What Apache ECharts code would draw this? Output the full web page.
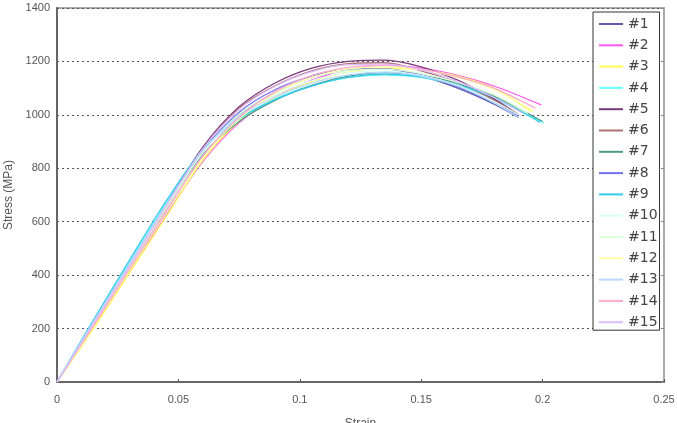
<!DOCTYPE html>
<html>
<head>
<meta charset="utf-8">
<script src="https://cdn.jsdelivr.net/npm/echarts@6/dist/echarts.min.js"></script>
<style>
html,body{margin:0;padding:0;background:#fff;}
#chart{width:677px;height:423px;}
</style>
</head>
<body>
<div id="chart"></div>
<script>
// Data
var seriesNames = ['#1','#2','#3','#4','#5','#6','#7','#8','#9','#10','#11','#12','#13','#14','#15'];
var strainPts = [0, 0.015, 0.03, 0.045, 0.06, 0.075, 0.09, 0.105, 0.12, 0.135, 0.15, 0.165, 0.18];
var s1  = [0, 220, 435, 655, 860, 1000, 1085, 1140, 1168, 1172, 1145, 1100, 1040];
var s2  = [0, 205, 415, 625, 825, 970, 1065, 1130, 1170, 1185, 1175, 1148, 1108];
var s3  = [0, 200, 410, 620, 830, 975, 1065, 1125, 1160, 1175, 1168, 1145, 1100];
var s4  = [0, 228, 450, 670, 865, 985, 1060, 1110, 1140, 1150, 1140, 1110, 1060];
var s5  = [0, 222, 440, 662, 878, 1030, 1120, 1175, 1200, 1205, 1180, 1130, 1060];
var s6  = [0, 215, 430, 650, 870, 1025, 1110, 1165, 1192, 1195, 1165, 1120, 1055];
var s7  = [0, 222, 440, 655, 850, 975, 1055, 1110, 1145, 1158, 1148, 1118, 1070];
var s8  = [0, 222, 440, 660, 865, 1010, 1095, 1145, 1170, 1172, 1150, 1105, 1045];
var s9  = [0, 232, 458, 678, 870, 985, 1058, 1108, 1140, 1152, 1142, 1112, 1065];
var s10 = [0, 220, 437, 655, 858, 995, 1075, 1128, 1158, 1163, 1148, 1110, 1050];
var s11 = [0, 218, 432, 652, 860, 1002, 1085, 1140, 1166, 1170, 1155, 1122, 1075];
var s12 = [0, 208, 420, 635, 840, 985, 1080, 1140, 1172, 1180, 1168, 1140, 1095];
var s13 = [0, 225, 445, 665, 865, 995, 1068, 1120, 1150, 1160, 1145, 1108, 1045];
var s14 = [0, 210, 425, 640, 845, 990, 1088, 1148, 1178, 1185, 1172, 1142, 1100];
var s15 = [0, 220, 437, 660, 872, 1020, 1108, 1162, 1188, 1190, 1168, 1125, 1065];
var endStrain = [0.190, 0.1995, 0.1955, 0.2005, 0.190, 0.190, 0.200, 0.190, 0.199, 0.190, 0.194, 0.196, 0.190, 0.197, 0.192];
var endStress = [990, 1037, 1012, 970, 1000, 1000, 975, 995, 972, 1000, 1005, 1015, 990, 1025, 1005];
var xTicks = [0, 0.05, 0.1, 0.15, 0.2, 0.25];
var yTicks = [0, 200, 400, 600, 800, 1000, 1200, 1400];

var stressSets = [s1,s2,s3,s4,s5,s6,s7,s8,s9,s10,s11,s12,s13,s14,s15];
var colors = ['#5c5ca8','#ff55ee','#ffff55','#66ffff','#7a3a7a','#b07070','#4f9a88','#7070f0',
              '#33ccee','#d8fff6','#d8ffd8','#ffffa8','#b8d8ff','#ffaacc','#dcbcff'];

var series = stressSets.map(function(arr, i){
  var d = strainPts.map(function(s, j){ return [s, arr[j]]; });
  d.push([endStrain[i], endStress[i]]);
  return {
    name: seriesNames[i], type: 'line', data: d, smooth: 0.3,
    symbol: 'none', showSymbol: false,
    lineStyle: {width: 1.3, color: colors[i]}, itemStyle: {color: colors[i]}
  };
});

var chart = echarts.init(document.getElementById('chart'));
chart.setOption({
  animation: false,
  backgroundColor: '#fff',
  grid: {left: 57, right: 13, top: 8, bottom: 41, show: true, borderColor: '#aaa', borderWidth: 2,
         backgroundColor: 'transparent', containLabel: false, outerBoundsMode: 'none'},
  legend: {
    orient: 'vertical', left: 593, top: 12,
    data: seriesNames,
    icon: 'path://M0,0H24V2H0Z', symbolKeepAspect: true,
    backgroundColor: '#fff', borderColor: '#333', borderWidth: 1,
    padding: [5, 2, 1, 6],
    itemWidth: 24, itemHeight: 14, itemGap: 7.3,
    textStyle: {fontFamily: 'DejaVu Sans', fontSize: 14, color: '#444'}
  },
  xAxis: {
    type: 'value', min: xTicks[0], max: xTicks[xTicks.length-1], interval: 0.05,
    name: 'Strain', nameLocation: 'middle', nameGap: 36,
    nameTextStyle: {fontFamily: 'Liberation Sans', fontSize: 12, color: '#555'},
    axisLine: {show: true, onZero: false, lineStyle: {color: '#666', width: 2}},
    axisTick: {show: true, inside: true, length: 3, lineStyle: {color: '#555'}},
    axisLabel: {fontFamily: 'Liberation Sans', fontSize: 11, color: '#555', margin: 12,
      formatter: function(v){ return String(v); }},
    splitLine: {show: false}
  },
  yAxis: [{
    type: 'value', min: yTicks[0], max: yTicks[yTicks.length-1], interval: 200,
    name: 'Stress (MPa)', nameLocation: 'middle', nameGap: 41, nameRotate: 90,
    nameTextStyle: {fontFamily: 'Liberation Sans', fontSize: 12, color: '#555'},
    axisLine: {show: true, lineStyle: {color: '#666', width: 2}},
    axisTick: {show: false},
    axisLabel: {fontFamily: 'Liberation Sans', fontSize: 11, color: '#555', margin: 7,
      formatter: function(v){ return String(v); }},
    splitLine: {show: true, lineStyle: {color: '#555', type: [2, 3], width: 1}}
  }, {
    type: 'value', min: yTicks[0], max: yTicks[yTicks.length-1], interval: 200, position: 'right',
    axisLine: {show: false}, axisLabel: {show: false}, splitLine: {show: false},
    axisTick: {show: true, inside: true, length: 3, lineStyle: {color: '#888'}}
  }],
  series: series
});
</script>
</body>
</html>
